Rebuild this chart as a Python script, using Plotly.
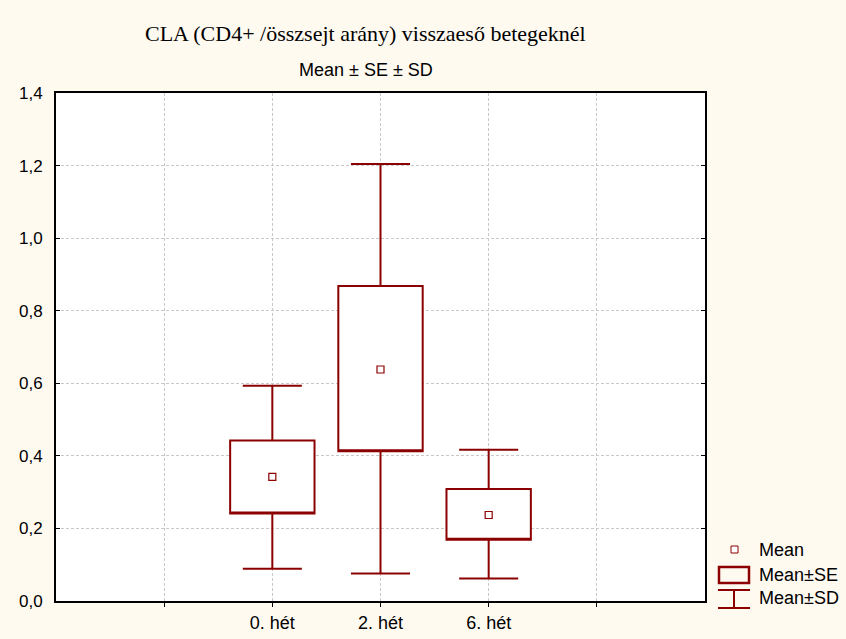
import plotly.graph_objects as go

categories = ["0. hét", "2. hét", "6. hét"]
means = [0.342, 0.638, 0.237]
se_low = [0.241, 0.413, 0.169]
se_high = [0.442, 0.868, 0.309]
sd_low = [0.089, 0.076, 0.062]
sd_high = [0.593, 1.204, 0.417]
y_ticks = [0.0, 0.2, 0.4, 0.6, 0.8, 1.0, 1.2, 1.4]

RED = "#8B0000"
W, H = 846, 639
L, R, T, B = 56, 141, 93, 38
PW, PH = W - L - R, H - T - B

positions = [i + 2 for i in range(len(categories))]

fig = go.Figure()
for i, cat in enumerate(categories):
    fig.add_trace(go.Box(
        x=[positions[i]], q1=[se_low[i]], median=[se_low[i]], q3=[se_high[i]],
        lowerfence=[sd_low[i]], upperfence=[sd_high[i]],
        width=0.78, whiskerwidth=0.7, boxpoints=False,
        line=dict(color=RED, width=2), fillcolor="white",
        showlegend=False, name=cat,
    ))
fig.add_trace(go.Scatter(
    x=positions, y=means, mode="markers",
    marker=dict(symbol="square-open", size=7, color=RED, line=dict(width=1.2, color=RED)),
    showlegend=False, name="Mean",
))

def px(x):
    return (x - L) / PW

def py(y):
    return (H - B - y) / PH

shapes = []
# legend icons
shapes.append(dict(type="rect", xref="paper", yref="paper", x0=px(731), x1=px(738), y0=py(553), y1=py(546),
                   line=dict(color=RED, width=1), fillcolor="white"))
shapes.append(dict(type="rect", xref="paper", yref="paper", x0=px(719), x1=px(749), y0=py(583), y1=py(567),
                   line=dict(color=RED, width=2.5), fillcolor="rgba(0,0,0,0)"))
shapes.append(dict(type="line", xref="paper", yref="paper", x0=px(718), x1=px(750), y0=py(590), y1=py(590),
                   line=dict(color=RED, width=2)))
shapes.append(dict(type="line", xref="paper", yref="paper", x0=px(718), x1=px(750), y0=py(608), y1=py(608),
                   line=dict(color=RED, width=2)))
shapes.append(dict(type="line", xref="paper", yref="paper", x0=px(734), x1=px(734), y0=py(590), y1=py(608),
                   line=dict(color=RED, width=2)))

annotations = [
    dict(text="CLA (CD4+ /összsejt arány) visszaeső betegeknél", xref="paper", yref="paper",
         x=px(365), y=py(34), showarrow=False, xanchor="center", yanchor="middle",
         font=dict(family="Liberation Serif", size=22, color="black")),
    dict(text="Mean ± SE ± SD", xref="paper", yref="paper",
         x=px(366), y=py(70), showarrow=False, xanchor="center", yanchor="middle",
         font=dict(family="Liberation Sans", size=18, color="black")),
]
for label, yy in [("Mean", 550), ("Mean±SE", 575), ("Mean±SD", 598)]:
    annotations.append(dict(text=label, xref="paper", yref="paper", x=px(757), y=py(yy),
                            showarrow=False, xanchor="left", yanchor="middle",
                            font=dict(family="Liberation Sans", size=18, color="black")))

fig.update_layout(
    width=W, height=H,
    margin=dict(l=L, r=R, t=T, b=B, pad=0, autoexpand=False),
    paper_bgcolor="#FFFAF0", plot_bgcolor="white",
    separators=",.",
    shapes=shapes, annotations=annotations,
    showlegend=False,
)
fig.update_xaxes(
    range=[0, 6], tickvals=[1, 2, 3, 4, 5], ticktext=[""] + categories + [""],
    showgrid=True, gridcolor="#c8c8c8", griddash="3px,2px", gridwidth=1,
    showline=True, linecolor="black", linewidth=2, mirror=True,
    ticks="outside", ticklen=4, tickcolor="black", zeroline=False,
    automargin=False,
    tickfont=dict(family="Liberation Sans", size=18, color="black"),
)
fig.update_yaxes(
    range=[0, 1.4], tickvals=y_ticks, tickformat=".1f",
    showgrid=True, gridcolor="#c8c8c8", griddash="3px,2px", gridwidth=1,
    showline=True, linecolor="black", linewidth=2, mirror="ticks",
    ticks="inside", ticklen=4, tickcolor="black", zeroline=False,
    automargin=False, ticklabelstandoff=8,
    tickfont=dict(family="Liberation Sans", size=17, color="black"),
)

fig.write_html("out.html", config={"displayModeBar": False},
               post_script="document.body.style.margin='0';document.body.style.background='#FFFAF0';")
